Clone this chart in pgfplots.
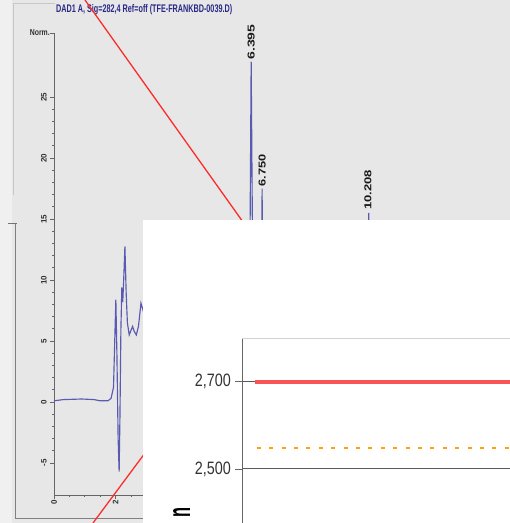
\documentclass[border=0pt]{standalone}
\usepackage{pgfplots}
\pgfplotsset{compat=1.18}
\usepackage{graphicx}
\usepackage{fontspec}
\setmainfont{Liberation Sans}
\definecolor{bggray}{RGB}{231,231,231}
\definecolor{strip}{RGB}{240,240,240}
\definecolor{trace}{RGB}{90,90,178}
\definecolor{titleblue}{RGB}{40,40,135}
\definecolor{redline}{RGB}{250,45,45}
\definecolor{insetred}{RGB}{250,85,85}
\definecolor{insetorange}{RGB}{255,160,20}
\pgfplotsset{pix/.style={scale only axis, width=510pt, height=523pt,
  xmin=0, xmax=510, ymin=0, ymax=523, y dir=reverse, hide axis,
  at={(0pt,0pt)}, anchor=north west, clip=false}}
\begin{document}
\begin{tikzpicture}
% background (pixel coordinates)
\begin{axis}[pix]
\addplot[fill=bggray, draw=none] coordinates {(0,0)(510,0)(510,523)(0,523)} -- cycle;
\addplot[fill=strip, draw=none] coordinates {(0,0)(12,0)(12,523)(0,523)} -- cycle;
\addplot[draw=black!22, line width=0.8pt] coordinates {(13,195)(13,3)(55,3)};
\addplot[draw=black!50, line width=1pt] coordinates {(15,223)(15,518)(145,518)};
\addplot[draw=black!55, line width=1pt] coordinates {(8,223)(17,223)};
\end{axis}
% chromatogram
\begin{axis}[scale only axis, width=456pt, height=462pt, at={(54pt,-33pt)}, anchor=north west,
  xmin=0, xmax=14.79, ymin=-7.62, ymax=30.25,
  axis x line=bottom, axis y line=left,
  axis line style={-, draw=black!60, line width=0.9pt},
  xtick={0,2,...,14}, minor x tick num=3,
  ytick={-5,0,...,25}, minor y tick num=4,
  extra y ticks={30.25}, extra y tick labels={},
  tick align=outside, major tick length=4pt, minor tick length=2pt,
  tick style={black!60, line width=0.8pt},
  /pgf/number format/assume math mode=true,
  yticklabel style={rotate=90, anchor=south, font=\bfseries\fontsize{8}{8}\selectfont, text=black!80, inner sep=3pt},
  xticklabel style={rotate=90, anchor=east, font=\bfseries\fontsize{8}{8}\selectfont, text=black!80, inner sep=1pt},
  clip=false]
\addplot[trace, line width=1.15pt] coordinates {
(0,0.1)(0.3,0.2)(0.9,0.25)(1.3,0.2)(1.5,0.1)(1.75,0.1)(1.85,0.3)(1.93,1.2)(1.97,5)
(2.006,8.4)(2.04,4)(2.08,-3)(2.113,-5.7)(2.14,-1)(2.17,6)(2.20,9.4)(2.23,8.2)(2.26,10)
(2.30,12.75)(2.34,9)(2.38,6.5)(2.44,5.5)(2.50,5.9)(2.55,6.2)(2.60,5.8)(2.67,5.5)(2.74,6.2)
(2.82,8.1)(2.88,7.6)(3.0,6.5)(3.2,5.5)(3.6,4.8)(4.2,4)(5.0,3.5)(5.8,3)(6.30,2.8)(6.33,2.5)
(6.395,27.9)(6.47,2.5)(6.55,2.8)(6.70,2.6)(6.72,3)(6.750,17.5)(6.78,3)(7.0,2.2)(8,1.5)(9,1.2)
(10.15,1.1)(10.18,1.5)(10.208,15.5)(10.24,1.5)(10.3,1.0)(12,0.8)(14.5,0.6)};
\node[rotate=90, anchor=west, inner sep=2pt, text=black!90] at (axis cs:6.395,27.9) {\resizebox{35pt}{7pt}{\bfseries 6.395}};
\node[rotate=90, anchor=west, inner sep=2pt, text=black!90] at (axis cs:6.750,17.5) {\resizebox{32pt}{7pt}{\bfseries 6.750}};
\node[rotate=90, anchor=west, inner sep=3pt, text=black!90] at (axis cs:10.18,15.5) {\resizebox{40pt}{7pt}{\bfseries 10.208}};
\node[anchor=east, inner sep=0pt, text=black!80] at ([xshift=-4pt]axis cs:0,30.25) {\resizebox{20pt}{6pt}{\bfseries Norm.}};
\end{axis}
% overlay (pixel coordinates)
\begin{axis}[pix]
\node[anchor=west, inner sep=0pt, text=titleblue] at (axis cs:56,9.5) {\resizebox{176pt}{8pt}{\bfseries DAD1 A, Sig=282,4 Ref=off (TFE-FRANKBD-0039.D)}};
\addplot[redline, line width=1.3pt] coordinates {(85,0)(243,222)};
\addplot[redline, line width=1.3pt] coordinates {(93,523)(145,453)};
\addplot[fill=white, draw=none] coordinates {(143,220)(510,220)(510,523)(143,523)} -- cycle;
\node[rotate=90, inner sep=0pt] at (axis cs:181.5,512) {\resizebox{10pt}{17pt}{\bfseries n}};
\end{axis}
% inset chart
\begin{axis}[scale only axis, width=268pt, height=185pt, at={(242pt,-338pt)}, anchor=north west,
  xmin=0, xmax=10, ymin=2376.3, ymax=2800,
  axis line style={draw=none}, xtick=\empty, ytick={2500,2700}, ytick pos=left,
  tick align=outside, major tick length=7pt, tick style={black!60, line width=0.8pt},
  ymajorgrids, grid style={black!65, line width=1pt}, scaled y ticks=false,
  /pgf/number format/assume math mode=true,
  yticklabel={\resizebox{36pt}{12.5pt}{\pgfmathprintnumber[1000 sep={,}]{\tick}}},
  yticklabel style={text=black!80, inner sep=0pt, xshift=-4pt},
  clip=false]
\addplot[black!60, line width=1pt] coordinates {(0,2376.3)(0,2800)};
\addplot[black!18, line width=1pt] coordinates {(0,2800)(10,2800)};
\addplot[insetred, line width=4pt] coordinates {(0.48,2700)(10,2700)};
\addplot[draw=insetorange, line width=2pt, dash pattern=on 4pt off 8.4pt] coordinates {(0.55,2549)(10,2549)};
\end{axis}
\pgfresetboundingbox
\path[use as bounding box] (0pt,0pt) rectangle (510pt,-523pt);
\end{tikzpicture}
\end{document}
